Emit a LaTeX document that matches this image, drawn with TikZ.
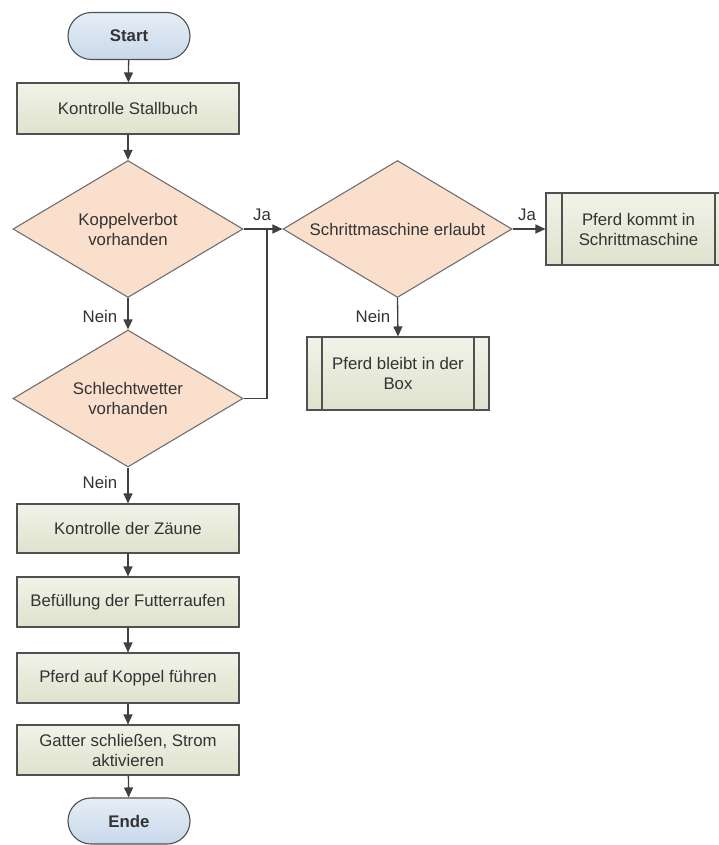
\documentclass[tikz,border=0pt]{standalone}
\usepackage{fontspec}
\setmainfont{Liberation Sans}
\usetikzlibrary{shapes.geometric,shapes.misc,arrows.meta}
\definecolor{ink}{HTML}{333333}
\definecolor{edge}{HTML}{505050}
\definecolor{flow}{HTML}{404040}
\definecolor{procTop}{HTML}{F1F3E8}
\definecolor{procBot}{HTML}{DEE2CD}
\definecolor{decFill}{HTML}{FADFCC}
\definecolor{decEdge}{HTML}{707070}
\definecolor{termTop}{HTML}{E6EEF7}
\definecolor{termBot}{HTML}{C8D8EA}
\begin{document}
\begin{tikzpicture}[x=1pt,y=-1pt,
  txt/.style={font=\fontsize{16.8}{20}\selectfont, text=ink, align=center},
  terminal/.style={txt, rounded rectangle, draw=edge, line width=1.1pt,
    top color=termTop, bottom color=termBot, minimum width=122pt,
    minimum height=47pt, inner sep=0pt, font=\fontsize{16.8}{20}\selectfont\bfseries},
  process/.style={txt, rectangle, draw=edge, line width=1.1pt,
    top color=procTop, bottom color=procBot, minimum width=222pt,
    minimum height=50pt, inner sep=0pt},
  subproc/.style={process, path picture={
    \draw[edge, line width=1.1pt]
      ([xshift=#1]path picture bounding box.north west) --
      ([xshift=#1]path picture bounding box.south west)
      ([xshift=-#1]path picture bounding box.north east) --
      ([xshift=-#1]path picture bounding box.south east);}},
  decision/.style={txt, diamond, aspect=1.67, draw=decEdge, line width=1.1pt,
    fill=decFill, minimum width=230pt, minimum height=137pt, inner sep=0pt},
  flowline/.style={draw=flow, line width=1.3pt,
    -{Triangle[length=10pt,width=9pt]}},
  plainline/.style={draw=flow, line width=1.3pt},
  lbl/.style={txt, inner sep=0pt}
]
\useasboundingbox[fill=white] (0,0) rectangle (719,845);

% main column
\node[terminal] (start) at (129,36) {Start};
\node[process, minimum height=51pt] (stall) at (128,108.5) {Kontrolle Stallbuch};
\node[decision] (koppel) at (128,229) {Koppelverbot\\vorhanden};
\node[decision] (wetter) at (128,398.5) {Schlechtwetter\\vorhanden};
\node[process, minimum height=49pt] (zaun) at (128,528.5) {Kontrolle der Zäune};
\node[process] (futter) at (128,602) {Befüllung der Futterraufen};
\node[process] (fuehren) at (128,678) {Pferd auf Koppel führen};
\node[process] (gatter) at (128,750) {Gatter schließen, Strom\\aktivieren};
\node[terminal, minimum height=46pt] (ende) at (129,821) {Ende};

% right branch
\node[decision, minimum width=229pt] (schritt) at (397.5,229) {Schrittmaschine erlaubt};
\node[subproc=16pt, minimum width=185pt, minimum height=72pt] (kommt) at (638.5,229)
  {Pferd kommt in\\Schrittmaschine};
\node[subproc=15pt, minimum width=182pt, minimum height=73pt] (bleibt) at (398,373.5)
  {Pferd bleibt in der\\Box};

\coordinate (join) at (267,229);

% connectors
\draw[flowline] (start) -- (stall);
\draw[flowline] (stall) -- (koppel);
\draw[flowline] (koppel) -- (wetter);
\draw[flowline] (wetter) -- (zaun);
\draw[flowline] (zaun) -- (futter);
\draw[flowline] (futter) -- (fuehren);
\draw[flowline] (fuehren) -- (gatter);
\draw[flowline] (gatter) -- (ende);
\draw[flowline] (koppel.east) -- (schritt.west);
\draw[plainline] (wetter.east) -| (join);
\draw[flowline] (schritt.east) -- (kommt.west);
\draw[flowline] (schritt.south) -- (bleibt.north);

% branch labels
\node[lbl] (ja1) at (262,215) {Ja};
\node[lbl] (nein1) at (100,316) {Nein};
\node[lbl] (nein2) at (100,482) {Nein};
\node[lbl] (ja2) at (527,215) {Ja};
\node[lbl] (nein3) at (373,316) {Nein};
\end{tikzpicture}
\end{document}
